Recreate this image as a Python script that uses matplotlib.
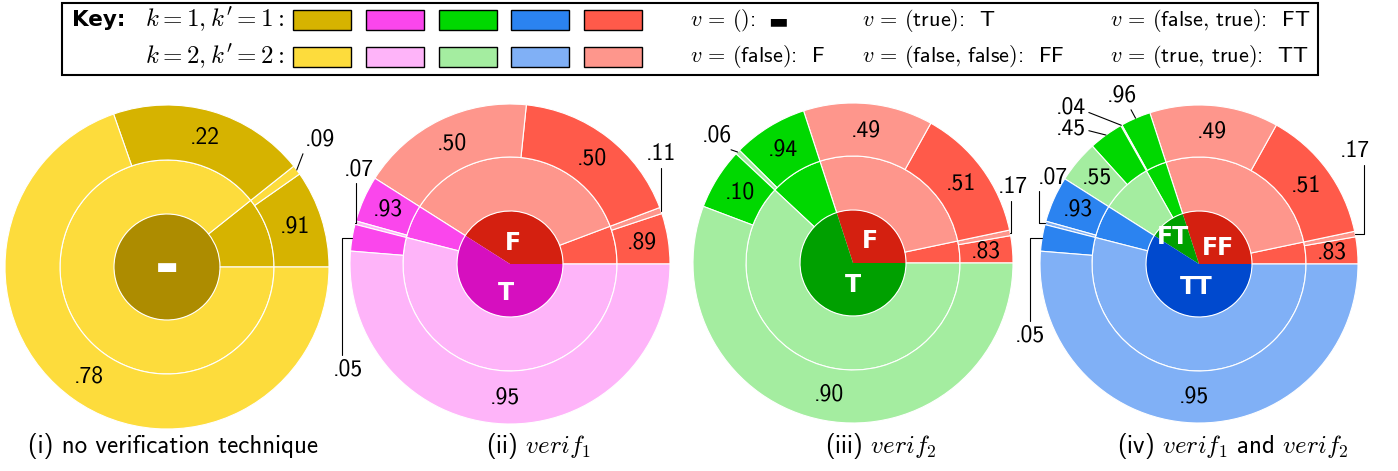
import numpy as np
import matplotlib.pyplot as plt
from matplotlib.patches import Rectangle

plt.rcParams['mathtext.fontset'] = 'cm'

W, H = 1398, 471

# --- data ---
panel_titles = ["(i) no verification technique", r"(ii) $verif_1$",
                r"(iii) $verif_2$", r"(iv) $verif_1$ and $verif_2$"]
v_labels = [["▬"], ["F", "T"], ["F", "T"], ["FF", "FT", "TT"]]
v_share = [[1.0], [0.41, 0.59], [0.30, 0.70], [0.30, 0.11, 0.59]]
k1_share = [[0.107], [0.14, 0.085], [0.11, 0.115], [0.11, 0.29, 0.085]]   # P(k=1 | v)
kp1_given_k1 = [[0.91], [0.89, 0.93], [0.83, 0.94], [0.83, 0.96, 0.93]]   # P(k'=1 | v, k=1)
kp1_given_k2 = [[0.22], [0.50, 0.05], [0.51, 0.10], [0.51, 0.45, 0.05]]   # P(k'=1 | v, k=2)
v_colors = [["gold"], ["red", "magenta"], ["red", "green"], ["red", "green", "blue"]]

# colour family: (inner v, k=1 dark, k=2 light)
palette = {
    "gold": ("#AD8C00", "#D6B300", "#FDDC3C"),
    "red": ("#D42010", "#FF5A4A", "#FE968C"),
    "magenta": ("#D60FBF", "#FA46EC", "#FEB4F9"),
    "green": ("#00A000", "#00D800", "#A4EDA0"),
    "blue": ("#0049CE", "#2B83F0", "#80B0F6"),
}
key_order = ["gold", "magenta", "green", "blue", "red"]

# --- layout (pixels, y from top) ---
centers = [(167, 267), (510, 264), (853, 263), (1199, 264)]
radii = [162, 160, 160, 159]
title_x = [173, 538, 881, 1233]
inner_pos = [[(167, 267)],
             [(513, 243), (506, 293)],
             [(870, 241), (853, 285)],
             [(1218, 248), (1173, 237), (1196, 287)]]
# outer labels placed outside with a leader: (panel, wedge) -> (x, y, relpos, elbow)
outside = {
    (0, 1): (320, 140, (0.0, 0.1), False),
    (1, 1): (661, 154, (0.5, 0.0), True),
    (1, 5): (359, 169, (0.4, 0.0), True),
    (1, 6): (348, 369, (0.3, 1.0), True),
    (2, 1): (1013, 187, (0.45, 0.0), True),
    (2, 5): (717, 136, (0.7, 0.0), False),
    (3, 1): (1355, 151, (0.8, 0.0), True),
    (3, 4): (1122, 96, (0.75, 0.0), False),
    (3, 5): (1071, 107, (1.0, 0.3), False),
    (3, 6): (1071, 130, (1.0, 0.5), False),
    (3, 9): (1053, 177, (0.05, 0.0), True),
    (3, 10): (1030, 335, (0.5, 1.0), True),
}

num_font = ['cmss10', 'DejaVu Sans']
FS = 17


def fmt(x):
    return f"{x:.2f}".lstrip('0')


fig = plt.figure(figsize=(W / 100, H / 100), dpi=100)
ax = fig.add_axes([0, 0, 1, 1])

for p in range(4):
    cx, cy = centers[p]
    c = (cx, H - cy)
    R = radii[p]
    r_mid, r_in = 107, 53

    inner_cols, mid_fr, mid_cols, out_fr, out_cols, out_txt = [], [], [], [], [], []
    for j, pv in enumerate(v_share[p]):
        dark_v, dark, light = palette[v_colors[p][j]]
        inner_cols.append(dark_v)
        k1 = k1_share[p][j]
        mid_fr += [pv * k1, pv * (1 - k1)]
        mid_cols += [dark, light]
        for ks, a in ((k1, kp1_given_k1[p][j]), (1 - k1, kp1_given_k2[p][j])):
            out_fr += [pv * ks * a, pv * ks * (1 - a)]
            out_cols += [dark, light]
            out_txt += [fmt(a), fmt(1 - a)]

    ax.pie(v_share[p], radius=r_in, center=c, startangle=0, colors=inner_cols,
           wedgeprops=dict(linewidth=0))
    ax.pie(mid_fr, radius=r_mid, center=c, startangle=0, colors=mid_cols,
           wedgeprops=dict(width=r_mid - r_in, edgecolor='white', linewidth=0.8))
    wedges, _ = ax.pie(out_fr, radius=R, center=c, startangle=0, colors=out_cols,
                       wedgeprops=dict(width=R - r_mid, edgecolor='white', linewidth=0.8))

    for i, w in enumerate(wedges):
        mid = np.deg2rad((w.theta1 + w.theta2) / 2)
        if (p, i) in outside:
            tx, ty, rel, elbow = outside[(p, i)]
            xy = (cx + R * np.cos(mid), H - cy + R * np.sin(mid))
            cs = 'angle,angleA=90,angleB=0,rad=0' if elbow else 'arc3'
            ax.annotate(out_txt[i], xy=xy, xytext=(tx, H - ty), ha='center', va='center',
                        fontsize=FS, family=num_font,
                        arrowprops=dict(arrowstyle='-', color='black', lw=0.8,
                                        connectionstyle=cs, relpos=rel,
                                        shrinkA=0, shrinkB=0))
        else:
            rl = (R + r_mid) / 2
            ax.text(cx + rl * np.cos(mid), H - cy + rl * np.sin(mid), out_txt[i],
                    ha='center', va='center', fontsize=FS, family=num_font)

    for j, lab in enumerate(v_labels[p]):
        x, y = inner_pos[p][j]
        ax.text(x, H - y, lab, ha='center', va='center', color='white',
                fontsize=17, fontweight='bold', family='DejaVu Sans')

    ax.text(title_x[p], H - 446, panel_titles[p], ha='center', va='center',
            fontsize=18, family=num_font)

# --- key box ---
ax.add_patch(Rectangle((62, H - 75), 1256, 72, facecolor='none', edgecolor='black', lw=1.5))
ax.text(72, H - 20, "Key:", ha='left', va='center', fontsize=15.5, fontweight='bold',
        family='DejaVu Sans')
for row, (lab, shade) in enumerate([(r"$k=1, k'=1:$", 1), (r"$k=2, k'=2:$", 2)]):
    yc = 20 + 37 * row
    ax.text(145, H - yc, lab, ha='left', va='center', fontsize=18)
    for i, fam in enumerate(key_order):
        ax.add_patch(Rectangle((293 + 72.8 * i, H - yc - 10), 58, 20,
                               facecolor=palette[fam][shade], edgecolor='black', lw=1.0))

key_texts = [
    (690, 20, r"$v\,=\,()$:"),
    (862, 20, r"$v\,=\,(\mathsf{true})$:  T"),
    (1110, 20, r"$v\,=\,(\mathsf{false},\,\mathsf{true})$:  FT"),
    (690, 57, r"$v\,=\,(\mathsf{false})$:  F"),
    (862, 57, r"$v\,=\,(\mathsf{false},\,\mathsf{false})$:  FF"),
    (1110, 57, r"$v\,=\,(\mathsf{true},\,\mathsf{true})$:  TT"),
]
for x, y, t in key_texts:
    ax.text(x, H - y, t, ha='left', va='center', fontsize=16, family=num_font)
ax.text(778, H - 21, "▬", ha='center', va='center', fontsize=15, family='DejaVu Sans')

ax.set_xlim(0, W)
ax.set_ylim(0, H)
ax.set_aspect('equal')
ax.axis('off')

fig.savefig('out.png', dpi=100)
